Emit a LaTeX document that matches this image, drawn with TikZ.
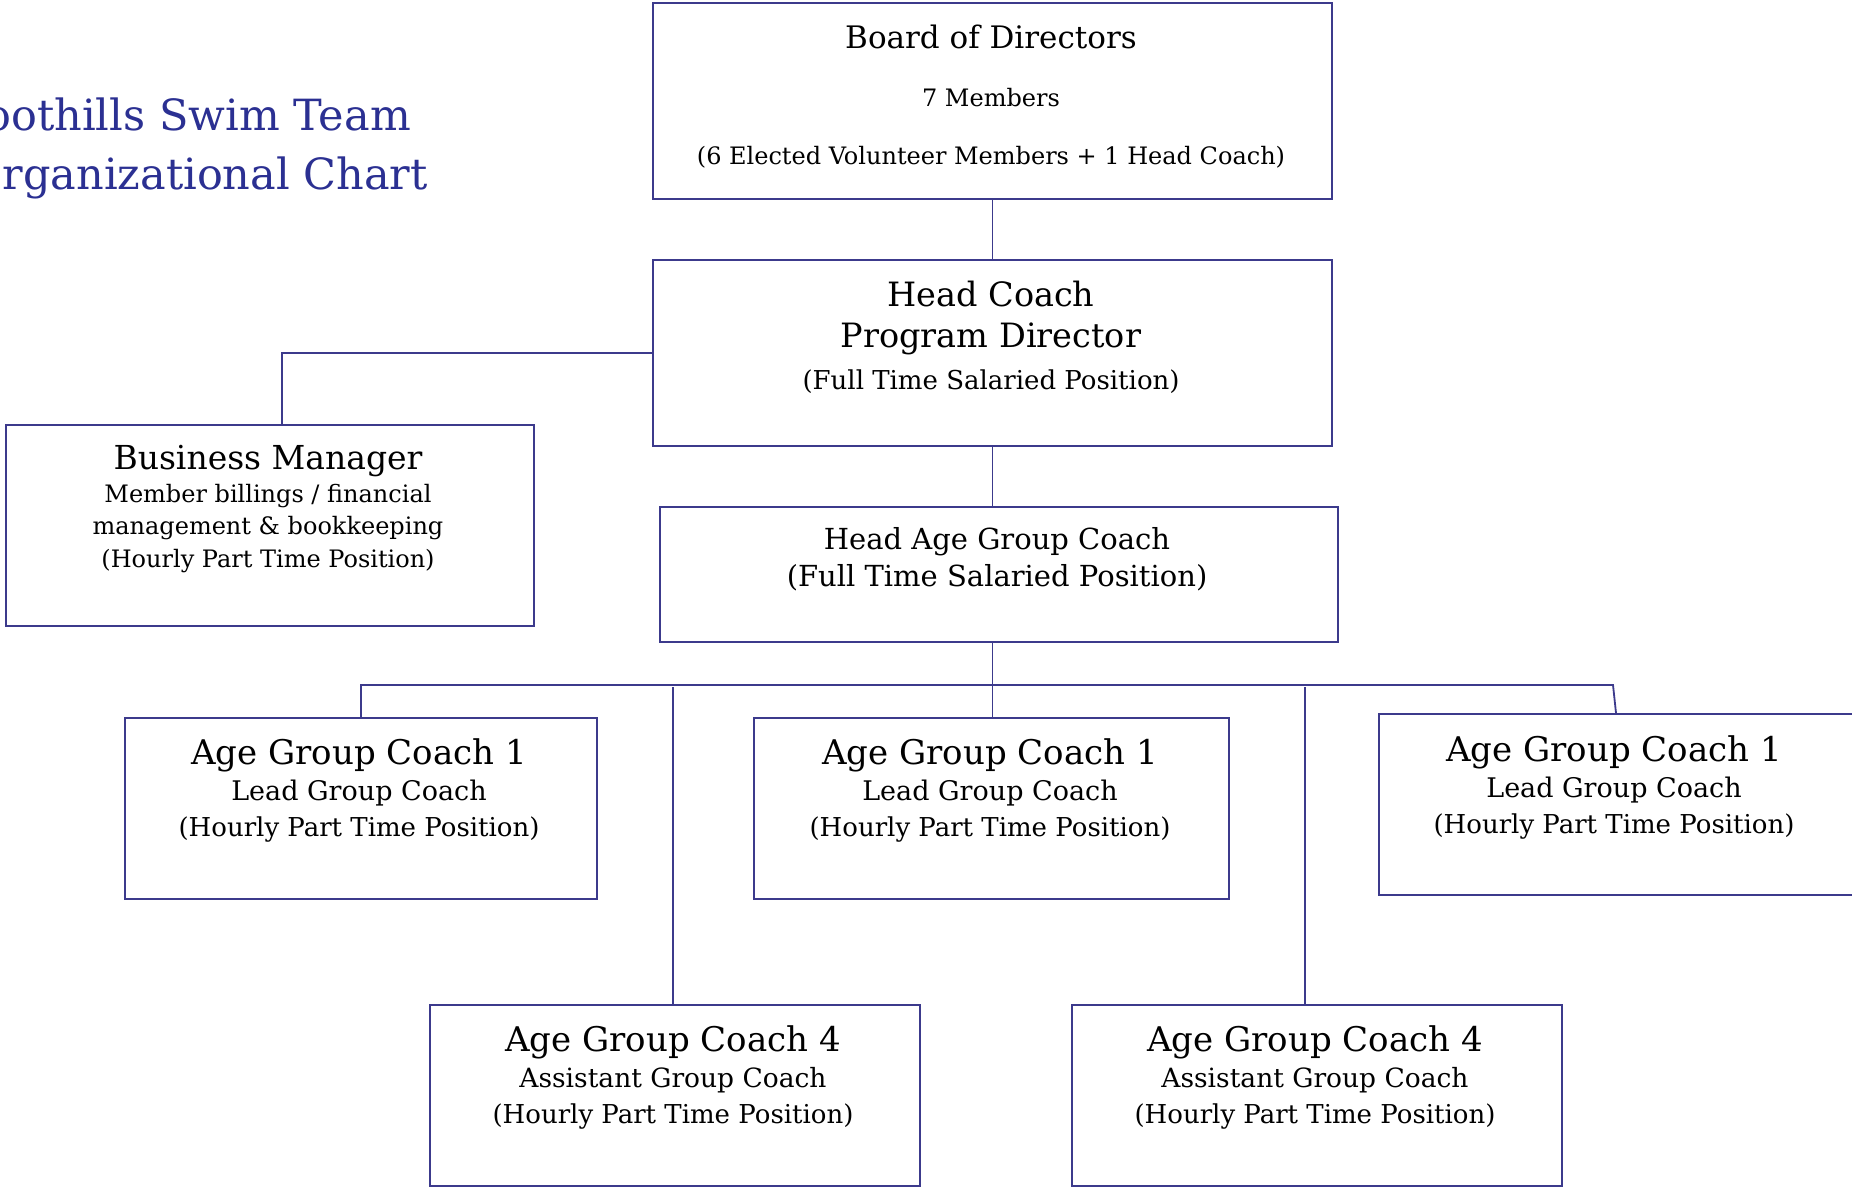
\documentclass[tikz,border=0pt]{standalone}
\usepackage{fontspec}
\setmainfont{DejaVu Serif}
\definecolor{ttl}{RGB}{43,48,146}
\definecolor{ln}{RGB}{60,58,140}
\begin{document}
\begin{tikzpicture}[x=1pt,y=-1pt,
  box/.style={draw=ln,line width=2pt,rectangle,inner sep=0pt,anchor=north west},
  conn/.style={draw=ln,line width=1.8pt},
  txt/.style={align=center,inner sep=0pt,text=black,anchor=base},
  ttlf/.style={inner sep=0pt,text=ttl,anchor=base east,font=\fontsize{43}{50}\selectfont}]
\useasboundingbox (0,0) rectangle (1852,1187);
\clip (0,0) rectangle (1852,1187);
\fill[white] (0,0) rectangle (1852,1187);

% title
\node[ttlf] (t1) at (411,130) {Foothills Swim Team};
\node[ttlf] (t2) at (428,189) {Organizational Chart};

% boxes
\node[box,minimum width=679pt,minimum height=196pt] (bod) at (652,2) {};
\node[box,minimum width=679pt,minimum height=186pt] (hc) at (652,259) {};
\node[box,minimum width=528pt,minimum height=201pt] (bm) at (5,424) {};
\node[box,minimum width=678pt,minimum height=135pt] (hagc) at (659,506) {};
\node[box,minimum width=472pt,minimum height=181pt] (a1l) at (124,717) {};
\node[box,minimum width=475pt,minimum height=181pt] (a1m) at (753,717) {};
\node[box,minimum width=474pt,minimum height=181pt] (a1r) at (1378,713) {};
\node[box,minimum width=490pt,minimum height=181pt] (a4l) at (429,1004) {};
\node[box,minimum width=490pt,minimum height=181pt] (a4r) at (1071,1004) {};

% texts (anchor = baseline of last line)
\node[txt,font=\fontsize{24}{58}\selectfont] (bodt) at (991,164)
  {{\fontsize{31}{58}\selectfont Board of Directors}\\7 Members\\(6 Elected Volunteer Members + 1 Head Coach)};
\node[txt,font=\fontsize{26}{41.5}\selectfont] (hct) at (991,389)
  {{\fontsize{33.5}{41.5}\selectfont Head Coach}\\{\fontsize{33.5}{41.5}\selectfont Program Director}\\(Full Time Salaried Position)};
\node[txt,font=\fontsize{24}{32.5}\selectfont] (bmt) at (268,567)
  {{\fontsize{33}{32.5}\selectfont Business Manager}\\Member billings / financial\\management \& bookkeeping\\(Hourly Part Time Position)};
\node[txt,font=\fontsize{29}{37}\selectfont] (hagct) at (997,586)
  {Head Age Group Coach\\(Full Time Salaried Position)};
\node[txt,font=\fontsize{26}{36}\selectfont] (a1lt) at (359,836)
  {{\fontsize{34}{36}\selectfont Age Group Coach 1}\\{\fontsize{27}{36}\selectfont Lead Group Coach}\\(Hourly Part Time Position)};
\node[txt,font=\fontsize{26}{36}\selectfont] (a1mt) at (990,836)
  {{\fontsize{34}{36}\selectfont Age Group Coach 1}\\{\fontsize{27}{36}\selectfont Lead Group Coach}\\(Hourly Part Time Position)};
\node[txt,font=\fontsize{26}{36}\selectfont] (a1rt) at (1614,833)
  {{\fontsize{34}{36}\selectfont Age Group Coach 1}\\{\fontsize{27}{36}\selectfont Lead Group Coach}\\(Hourly Part Time Position)};
\node[txt,font=\fontsize{26}{36}\selectfont] (a4lt) at (673,1123)
  {{\fontsize{34}{36}\selectfont Age Group Coach 4}\\{\fontsize{26.5}{36}\selectfont Assistant Group Coach}\\(Hourly Part Time Position)};
\node[txt,font=\fontsize{26}{36}\selectfont] (a4rt) at (1315,1123)
  {{\fontsize{34}{36}\selectfont Age Group Coach 4}\\{\fontsize{26.5}{36}\selectfont Assistant Group Coach}\\(Hourly Part Time Position)};

% connectors
\coordinate (bmj) at (282,424);
\coordinate (busr) at (1613,685);
\coordinate (bus) at (hc.south |- busr);
\coordinate (j4l) at (673,687);
\coordinate (j4r) at (1305,687);
\draw[conn] (bod.south) -- (hc.north);
\draw[conn] (hc.west) -| (bmj);
\draw[conn] (hc.south) -- (hc.south |- hagc.north);
\draw[conn] (hc.south |- hagc.south) -- (bus);
\draw[conn] (a1l.north) -- (a1l.north |- bus) -- (busr) -- (a1r.north);
\draw[conn] (bus) -- (bus |- a1m.north);
\draw[conn] (j4l) -- (j4l |- a4l.north);
\draw[conn] (j4r) -- (j4r |- a4r.north);
\end{tikzpicture}
\end{document}
